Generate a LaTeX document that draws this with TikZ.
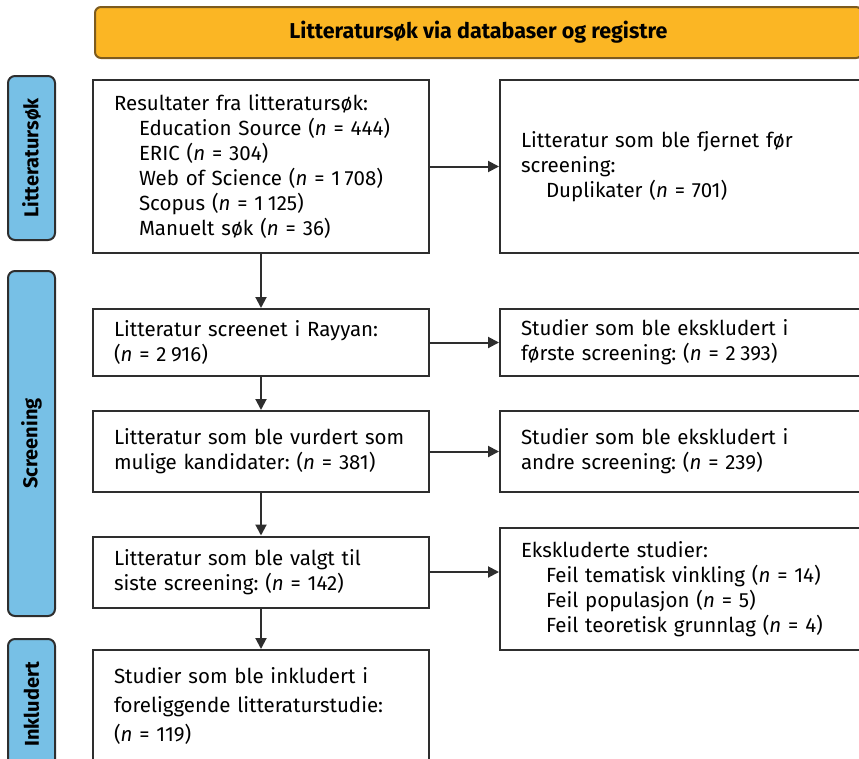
\documentclass[tikz,border=0pt]{standalone}
\usepackage{fontspec}
\setmainfont{Fira Sans}
\usepackage{xcolor}
\definecolor{bannerorange}{HTML}{FBB624}
\definecolor{bannerline}{HTML}{7D5B1E}
\definecolor{tabblue}{HTML}{77C0E6}
\definecolor{boxline}{HTML}{2E2E2E}
\RequirePackage{tikz}
\usetikzlibrary{positioning,arrows.meta}
\frenchspacing
\newcommand{\thsep}{\hspace{0.22em}}

\begin{document}
\begin{tikzpicture}[x=1pt, y=-1pt,
  flowbox/.style={draw=boxline, line width=2pt, align=left, inner xsep=21pt,
    font=\fontsize{20.5}{25}\selectfont},
  leftbox/.style={flowbox, minimum width=336pt, text width=294pt},
  rightbox/.style={flowbox, minimum width=372pt, text width=330pt},
  sidetab/.style={draw=boxline, fill=tabblue, line width=2pt, rounded corners=7pt,
    rotate=90, minimum height=47pt, font=\fontsize{20}{24}\selectfont\bfseries},
  flowarrow/.style={line width=2pt, draw=boxline, -{Triangle[length=11pt,width=11pt]}}]
	\useasboundingbox (0,0) rectangle (859,758);
	\node[draw=bannerline, fill=bannerorange, line width=2pt, rounded corners=6pt,
	  minimum width=767pt, minimum height=51pt, font=\fontsize{21.5}{24}\selectfont\bfseries]
	  (banner) at (478.5,32.5) {Litteratursøk via databaser og registre};
	\node[sidetab, minimum width=164pt] (tabsok) at (31.5,158) {Litteratursøk};
	\node[sidetab, minimum width=345pt] (tabscreen) at (31.5,443.5) {Screening};
	\node[sidetab, minimum width=131pt] (tabinkl) at (31.5,704.5) {Inkludert};
	\node[leftbox, minimum height=173pt] (resultater) at (261,166.5) {Resultater fra litteratursøk:\\
	  \hspace*{25pt}Education Source (\textit{n} = 444)\\
	  \hspace*{25pt}ERIC (\textit{n} = 304)\\
	  \hspace*{25pt}Web of Science (\textit{n} = 1\thsep708)\\
	  \hspace*{25pt}Scopus (\textit{n} = 1\thsep125)\\
	  \hspace*{25pt}Manuelt søk (\textit{n} = 36)};
	\node[rightbox, minimum height=173pt] (duplikater) at (686,166.5) {Litteratur som ble fjernet før\\screening:\\
	  \hspace*{25pt}Duplikater (\textit{n} = 701)};
	\node[leftbox, minimum height=67pt] (rayyan) at (261,342.5) {Litteratur screenet i Rayyan:\\(\textit{n} = 2\thsep916)};
	\node[rightbox, minimum height=67pt] (forste) at (686,342.5) {Studier som ble ekskludert i\\første screening: (\textit{n} = 2\thsep393)};
	\node[leftbox, minimum height=81pt] (kandidater) at (261,451.5) {Litteratur som ble vurdert som\\mulige kandidater: (\textit{n} = 381)};
	\node[rightbox, minimum height=81pt] (andre) at (686,451.5) {Studier som ble ekskludert i\\andre screening: (\textit{n} = 239)};
	\node[leftbox, minimum height=71pt] (valgt) at (261,572) {Litteratur som ble valgt til\\siste screening: (\textit{n} = 142)};
	\node[rightbox, minimum height=122pt] (ekskludert) at (686,589) {Ekskluderte studier:\\
	  \hspace*{25pt}Feil tematisk vinkling (\textit{n} = 14)\\
	  \hspace*{25pt}Feil populasjon (\textit{n} = 5)\\
	  \hspace*{25pt}Feil teoretisk grunnlag (\textit{n} = 4)};
	\node[leftbox, minimum height=112pt, font=\fontsize{20.5}{29}\selectfont] (inkludert) at (261,706) {Studier som ble inkludert i\\foreliggende litteraturstudie:\\(\textit{n} = 119)};
	\draw[flowarrow] (resultater) -- (rayyan);
	\draw[flowarrow] (rayyan) -- (kandidater);
	\draw[flowarrow] (kandidater) -- (valgt);
	\draw[flowarrow] (valgt) -- (inkludert);
	\draw[flowarrow] (resultater.east) -- (resultater.east -| duplikater.west);
	\draw[flowarrow] (rayyan.east) -- (rayyan.east -| forste.west);
	\draw[flowarrow] (kandidater.east) -- (kandidater.east -| andre.west);
	\draw[flowarrow] (valgt.east) -- (valgt.east -| ekskludert.west);
\end{tikzpicture}
\end{document}
